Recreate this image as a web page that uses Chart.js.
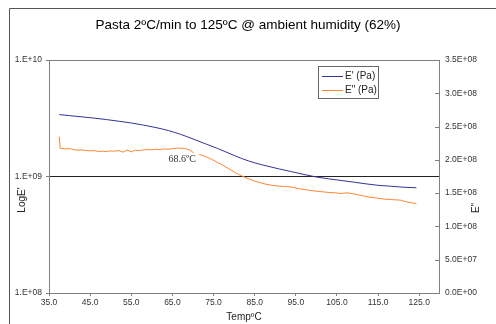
<!DOCTYPE html>
<html>
<head>
<meta charset="utf-8">
<script src="https://cdn.jsdelivr.net/npm/chart.js@4"></script>
<style>
  html, body { margin: 0; padding: 0; background: #fff; }
  #wrap { width: 496px; height: 324px; }
</style>
</head>
<body>
<div id="wrap"><canvas id="chart" width="496" height="324"></canvas></div>
<script>
// E' (storage modulus, Pa) - log axis on the left
var storageTemp = [37.5, 40, 43, 46, 49, 52, 55, 58, 61, 64, 67, 70, 73, 76, 79, 82, 85, 88, 91, 94, 97, 100, 103, 106, 109, 112, 115, 118, 121, 124.3];
var storageMod = [3.40e9, 3.33e9, 3.25e9, 3.17e9, 3.08e9, 2.98e9, 2.88e9, 2.76e9, 2.63e9, 2.48e9, 2.30e9, 2.10e9, 1.91e9, 1.74e9, 1.57e9, 1.42e9, 1.31e9, 1.23e9, 1.16e9, 1.10e9, 1.04e9, 0.99e9, 0.955e9, 0.925e9, 0.895e9, 0.865e9, 0.84e9, 0.825e9, 0.81e9, 0.80e9];

// E" (loss modulus, Pa) - linear axis on the right
var lossTemp = [37.5, 37.7, 39, 40, 41, 42, 43, 44, 45, 46, 47, 48, 49, 50, 51, 52, 53, 54, 55, 56, 57, 58, 59, 60, 61, 62, 63, 64, 65, 66, 67, 68, 69, 70.2, 70.8, 71.5, 73, 74.5, 76, 77.5, 79, 80.5, 82, 83.5, 85, 86.5, 88, 89.5, 91, 92.5, 94, 95.5, 97, 98.5, 100, 101.5, 103, 104.5, 106, 107.5, 109, 110.5, 112, 113.5, 115, 116.5, 118, 119.5, 120.5, 121.5, 123, 124.3];
var lossMod = [235e6, 217.5e6, 216.5e6, 217e6, 215.5e6, 214.5e6, 215e6, 214e6, 213.5e6, 214e6, 212.5e6, 213e6, 212.5e6, 213.5e6, 213e6, 214e6, 211.5e6, 215e6, 212e6, 214.5e6, 214e6, 215e6, 215.5e6, 215e6, 216e6, 215.5e6, 216.5e6, 216e6, 217e6, 217.5e6, 217.5e6, 217e6, 215.5e6, 210.5e6, null, 208.3e6, 205e6, 201e6, 196e6, 191e6, 185.5e6, 180e6, 175.5e6, 171.5e6, 168e6, 165.5e6, 163e6, 161.5e6, 160.5e6, 160e6, 159e6, 157e6, 155.5e6, 154e6, 153e6, 152e6, 151e6, 150.5e6, 149.5e6, 150.5e6, 149e6, 147e6, 145e6, 143.5e6, 142.5e6, 141e6, 140.5e6, 139.8e6, 139.5e6, 137.5e6, 135.5e6, 134.5e6];

var xTicks = [35, 45, 55, 65, 75, 85, 95, 105, 115, 125];
var leftTicks = [1e8, 1e9, 1e10];
var seriesNames = ["E' (Pa)", 'E" (Pa)'];
var seriesColors = ['#333399', '#ff8533'];
var markTemp = 68.6;
var markValue = 217e6;

function pad2(n) { return (n < 10 ? '0' : '') + n; }
function sciLabel(v) {
  if (v === 0) return '0.0E+00';
  var e = Math.floor(Math.log10(v) + 1e-9);
  return (v / Math.pow(10, e)).toFixed(1) + 'E+' + pad2(e);
}

var tickFont = { family: 'Liberation Sans, Arial, sans-serif', size: 8.5 };

var extras = {
  id: 'extras',
  beforeDraw: function(chart) {
    var c = chart.ctx;
    c.save();
    c.fillStyle = '#fff';
    c.fillRect(0, 0, chart.width, chart.height);
    c.strokeStyle = '#555';
    c.lineWidth = 1;
    c.beginPath();
    c.moveTo(9.5, chart.height + 2);
    c.lineTo(9.5, 8.5);
    c.lineTo(chart.width + 2, 8.5);
    c.stroke();
    c.restore();
  },
  afterDraw: function(chart) {
    var c = chart.ctx, a = chart.chartArea;
    var xs = chart.scales.x, y2 = chart.scales.y2;
    c.save();
    // plot area top border
    c.strokeStyle = '#808080';
    c.lineWidth = 1;
    c.beginPath();
    c.moveTo(a.left, a.top + 0.5);
    c.lineTo(a.right, a.top + 0.5);
    c.stroke();
    // inside ticks on right axis
    y2.ticks.forEach(function(t) {
      var py = Math.round(y2.getPixelForValue(t.value)) + 0.5;
      c.beginPath();
      c.moveTo(a.right - 4, py);
      c.lineTo(a.right, py);
      c.stroke();
    });

    // axis titles
    c.fillStyle = '#222';
    c.font = '10px Liberation Sans, Arial, sans-serif';
    c.textAlign = 'center';
    c.textBaseline = 'middle';
    c.fillText('TempºC', 244, 317);
    c.save();
    c.translate(22, 200);
    c.rotate(-Math.PI / 2);
    c.fillText("LogE'", 0, 0);
    c.restore();
    c.save();
    c.translate(476, 208);
    c.rotate(-Math.PI / 2);
    c.fillText('E"', 0, 0);
    c.restore();

    // legend box
    c.fillStyle = '#fff';
    c.fillRect(318, 66, 60, 32);
    c.strokeStyle = '#666';
    c.strokeRect(318.5, 66.5, 60, 32);
    c.textAlign = 'left';
    c.fillStyle = '#222';
    for (var i = 0; i < seriesNames.length; i++) {
      var ly = 76.5 + i * 14;
      c.strokeStyle = seriesColors[i];
      c.beginPath();
      c.moveTo(322, ly);
      c.lineTo(343, ly);
      c.stroke();
      c.fillText(seriesNames[i], 345, ly);
    }

    // onset label
    c.font = '10px Liberation Serif, Times New Roman, serif';
    c.fillStyle = '#333';
    c.textAlign = 'center';
    c.fillText(markTemp.toFixed(1) + 'ºC', xs.getPixelForValue(markTemp) - 5, y2.getPixelForValue(markValue) + 11);
    c.restore();
  }
};

var ctx = document.getElementById('chart').getContext('2d');
var chart = new Chart(ctx, {
  type: 'line',
  data: {
    datasets: [
      {
        label: seriesNames[0],
        data: storageTemp.map(function(t, i) { return { x: t, y: storageMod[i] }; }),
        borderColor: seriesColors[0],
        borderWidth: 1,
        pointRadius: 0,
        cubicInterpolationMode: 'monotone',
        yAxisID: 'y'
      },
      {
        label: seriesNames[1],
        data: lossTemp.map(function(t, i) { return { x: t, y: lossMod[i] }; }),
        borderColor: seriesColors[1],
        borderWidth: 1,
        pointRadius: 0,
        tension: 0,
        spanGaps: false,
        yAxisID: 'y2'
      }
    ]
  },
  options: {
    responsive: false,
    animation: false,
    layout: { padding: 0 },
    plugins: {
      legend: { display: false },
      tooltip: { enabled: false },
      title: {
        display: true,
        text: 'Pasta 2ºC/min to 125ºC @ ambient humidity (62%)',
        color: '#000',
        font: { family: 'Liberation Sans, Arial, sans-serif', size: 13.5, weight: 'normal' },
        padding: { top: 17.5, bottom: 26.3 }
      }
    },
    scales: {
      x: {
        type: 'linear',
        position: 'bottom',
        min: 35,
        max: 129.8,
        afterBuildTicks: function(s) { s.ticks = xTicks.map(function(v) { return { value: v }; }); },
        afterFit: function(s) { s.height = 31; },
        ticks: {
          autoSkip: false, maxRotation: 0, padding: 2, color: '#333', font: tickFont,
          callback: function(v) { return Number(v).toFixed(1); }
        },
        grid: { drawOnChartArea: false, tickLength: 3, tickColor: '#808080' },
        border: { color: '#808080' }
      },
      y: {
        type: 'logarithmic',
        position: 'left',
        min: 1e8,
        max: 1e10,
        afterBuildTicks: function(s) { s.ticks = leftTicks.map(function(v) { return { value: v }; }); },
        afterFit: function(s) { s.width = 49; },
        ticks: {
          padding: 4, color: '#333', font: tickFont,
          callback: function(v) { return '1.E+' + pad2(Math.round(Math.log10(v))); }
        },
        grid: {
          tickLength: 3,
          tickColor: '#808080',
          color: function(c) { return c.tick && c.tick.value === 1e9 ? '#222' : 'rgba(0,0,0,0)'; }
        },
        border: { color: '#808080' }
      },
      y2: {
        type: 'linear',
        position: 'right',
        min: 0,
        max: 3.5e8,
        afterFit: function(s) { s.width = 57; },
        ticks: { stepSize: 5e7, padding: 6, color: '#333', font: tickFont, callback: function(v) { return sciLabel(v); } },
        grid: { drawOnChartArea: false, drawTicks: false },
        border: { color: '#808080' }
      }
    }
  },
  plugins: [extras]
});
</script>
</body>
</html>
